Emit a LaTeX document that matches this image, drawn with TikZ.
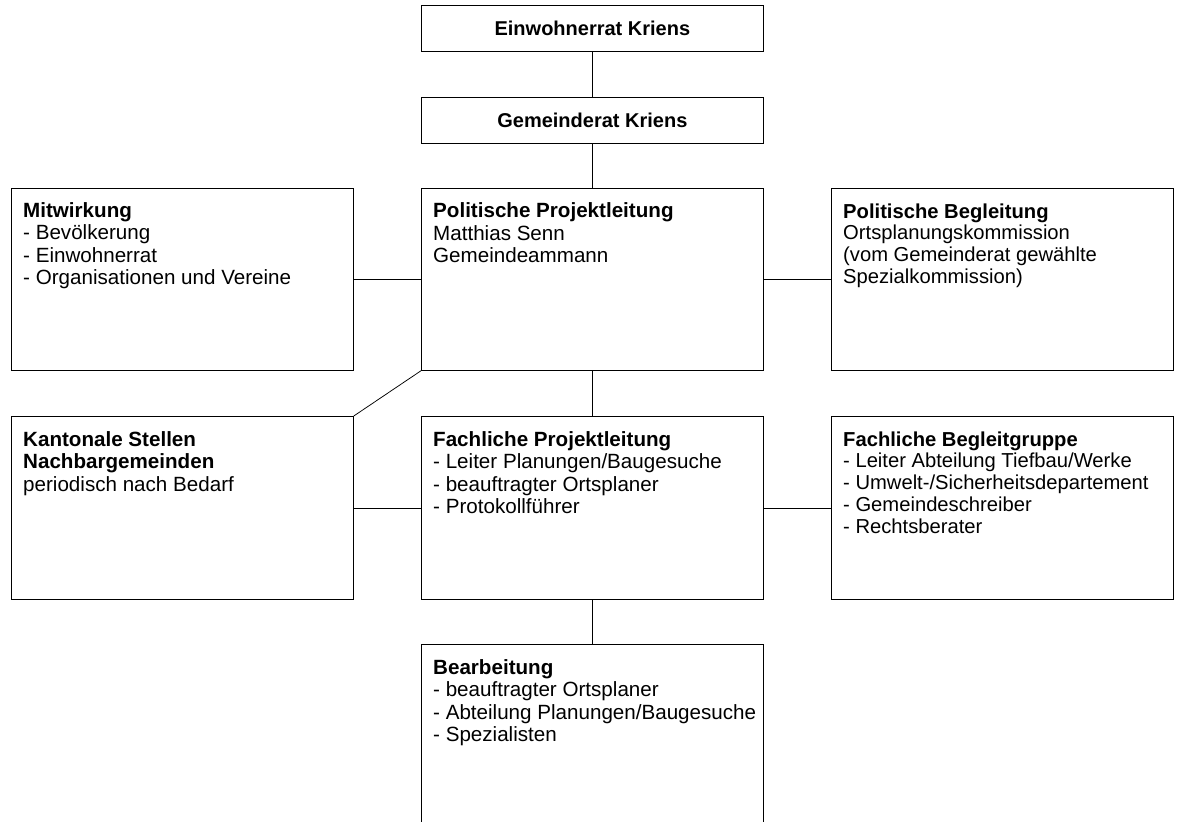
\documentclass[tikz,border=0pt]{standalone}
\usepackage{fontspec}
\setmainfont{Liberation Sans}
\begin{document}
\begin{tikzpicture}[x=1bp, y=-1bp]

      \tikzset{orgbox/.style={draw, line width=0.75bp, inner sep=0pt, anchor=north west, minimum width=342bp, font=\fontsize{20bp}{21.7bp}\selectfont},
               orgtext/.style={anchor=north west, inner sep=0pt, align=left, font=\fontsize{20.6bp}{22.5bp}\selectfont},
               righttext/.style={orgtext, font=\fontsize{20.2bp}{21.8bp}\selectfont}}
      \useasboundingbox (0,0) rectangle (1181,822);
%% Boxes
      	\node[orgbox, minimum height=46bp] (einwohnerrat) at (421,5) {\textbf{Einwohnerrat Kriens}};
      	\node[orgbox, minimum height=46bp] (gemeinderat) at (421,97) {\textbf{Gemeinderat Kriens}};
      	\node[orgbox, minimum height=182bp] (mitwirkung) at (11,188) {};
      	\node[orgbox, minimum height=182bp] (polprojekt) at (421,188) {};
      	\node[orgbox, minimum height=182bp] (polbegleit) at (831,188) {};
      	\node[orgbox, minimum height=183bp] (kantonal) at (11,416) {};
      	\node[orgbox, minimum height=183bp] (fachprojekt) at (421,416) {};
      	\node[orgbox, minimum height=183bp] (fachbegleit) at (831,416) {};
      	\node[orgbox, minimum height=190bp] (bearbeitung) at (421,644) {};
%% Texts
      	\node[orgtext] (mitwirkungtext) at ([shift={(12,13.5)}]mitwirkung.north west) {\strut\textbf{Mitwirkung}\\- Bevölkerung\\- Einwohnerrat\\- Organisationen und Vereine};
      	\node[orgtext] (polprojekttext) at ([shift={(12,13.8)}]polprojekt.north west) {\strut\textbf{Politische Projektleitung}\\Matthias Senn\\Gemeindeammann};
      	\node[righttext] (polbegleittext) at ([shift={(12,14.7)}]polbegleit.north west) {\strut\textbf{Politische Begleitung}\\Ortsplanungskommission\\(vom Gemeinderat gewählte\\Spezialkommission)};
      	\node[orgtext] (kantonaltext) at ([shift={(12,14.2)}]kantonal.north west) {\strut\textbf{Kantonale Stellen}\\\textbf{Nachbargemeinden}\\periodisch nach Bedarf};
      	\node[orgtext] (fachprojekttext) at ([shift={(12,14.2)}]fachprojekt.north west) {\strut\textbf{Fachliche Projektleitung}\\- Leiter Planungen/Baugesuche\\- beauftragter Ortsplaner\\- Protokollführer};
      	\node[righttext] (fachbegleittext) at ([shift={(12,14.7)}]fachbegleit.north west) {\strut\textbf{Fachliche Begleitgruppe}\\- Leiter Abteilung Tiefbau/Werke\\- Umwelt-/Sicherheitsdepartement\\- Gemeindeschreiber\\- Rechtsberater};
      	\node[orgtext] (bearbeitungtext) at ([shift={(12,14.5)}]bearbeitung.north west) {\strut\textbf{Bearbeitung}\\- beauftragter Ortsplaner\\- Abteilung Planungen/Baugesuche\\- Spezialisten};
%Lines
		\path [line width=0.75bp](einwohnerrat) edge (gemeinderat);
		\path [line width=0.75bp](gemeinderat) edge (polprojekt);
		\path [line width=0.75bp](mitwirkung) edge (polprojekt);
		\path [line width=0.75bp](polprojekt) edge (polbegleit);
		\path [line width=0.75bp](polprojekt) edge (fachprojekt);
		\path [line width=0.75bp](polprojekt.south west) edge (kantonal.north east);
		\path [line width=0.75bp](kantonal) edge (fachprojekt);
		\path [line width=0.75bp](fachprojekt) edge (fachbegleit);
		\path [line width=0.75bp](fachprojekt) edge (bearbeitung);

	\end{tikzpicture}
\end{document}
